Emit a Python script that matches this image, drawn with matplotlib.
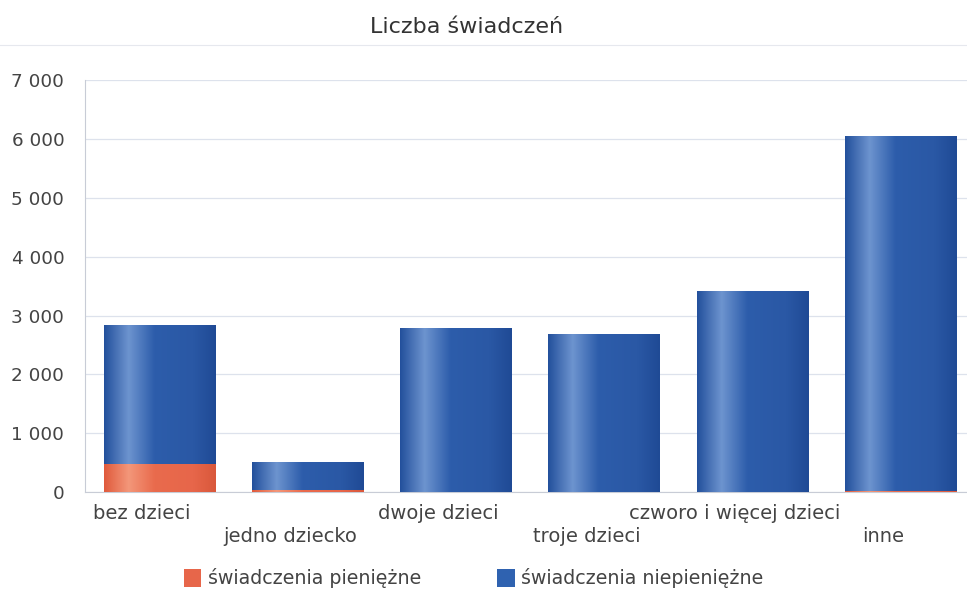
import numpy as np
from matplotlib import pyplot as plt
from matplotlib.colors import LinearSegmentedColormap
from matplotlib.patches import Patch
from matplotlib.transforms import ScaledTranslation

categories = ["bez dzieci", "jedno dziecko", "dwoje dzieci", "troje dzieci",
              "czworo i więcej dzieci", "inne"]
pieniezne = [475, 40, 0, 0, 0, 25]
niepieniezne = [2365, 470, 2790, 2685, 3420, 6025]
yticks = [0, 1000, 2000, 3000, 4000, 5000, 6000, 7000]
ytick_labels = ["0", "1 000", "2 000", "3 000", "4 000", "5 000", "6 000", "7 000"]

blue_cm = LinearSegmentedColormap.from_list(
    "cyl_blue", [(0, "#23509c"), (0.22, "#6d94cf"), (0.45, "#2d5dab"),
                 (0.8, "#2a58a5"), (1, "#1f4a95")])
red_cm = LinearSegmentedColormap.from_list(
    "cyl_red", [(0, "#e05a3c"), (0.22, "#f3977a"), (0.45, "#e96b4d"),
                (0.8, "#e7664a"), (1, "#d9583b")])

fig = plt.figure(figsize=(9.67, 5.93), dpi=100)
ax = fig.add_axes([0.088, 0.17, 0.912, 0.695])

x = np.arange(len(categories))
b1 = ax.bar(x, pieniezne, width=0.75, color="#e7664a", zorder=2)
b2 = ax.bar(x, niepieniezne, width=0.75, bottom=pieniezne, color="#2a58a5", zorder=2)

grad = np.linspace(0, 1, 256).reshape(1, -1)
for bars, cm in ((b1, red_cm), (b2, blue_cm)):
    for p in bars:
        if p.get_height() <= 0:
            continue
        x0, y0 = p.get_x(), p.get_y()
        im = ax.imshow(grad, cmap=cm, aspect="auto", zorder=3,
                       extent=(x0, x0 + p.get_width(), y0, y0 + p.get_height()))
        im.set_clip_path(p)

ax.set_xlim(-0.5, 5.45)
ax.set_ylim(0, 7000)
ax.set_yticks(yticks)
ax.set_yticklabels(ytick_labels)
ax.grid(axis="y", color="#dde2ec", linewidth=0.9, zorder=0)
ax.set_axisbelow(True)
for s in ["top", "right"]:
    ax.spines[s].set_visible(False)
ax.spines["left"].set_color("#c8ccd6")
ax.spines["bottom"].set_color("#c8ccd6")
ax.tick_params(axis="y", length=0, labelsize=13.2, labelcolor="#444444", pad=15)
ax.tick_params(axis="x", length=0, labelsize=14, labelcolor="#444444")
ax.set_xticks(x)
ax.set_xticklabels(categories)
shift = ScaledTranslation(-17 / 100, 0, fig.dpi_scale_trans)
for i, lab in enumerate(ax.get_xticklabels()):
    lab.set_y(-0.018 if i % 2 == 0 else -0.072)
    lab.set_transform(lab.get_transform() + shift)

fig.text(0.483, 0.955, "Liczba świadczeń", ha="center", va="center",
         fontsize=16, color="#333333")
fig.add_artist(plt.Line2D([0, 1], [0.924, 0.924], color="#e6e8ee", linewidth=0.8))

handles = [Patch(facecolor="#e7664a", label="świadczenia pieniężne"),
           Patch(facecolor="#2f62b0", label="świadczenia niepieniężne")]
fig.legend(handles=handles, loc="center", bbox_to_anchor=(0.49, 0.025), ncol=2,
           frameon=False, fontsize=13.7, handlelength=0.9, handleheight=1.1,
           columnspacing=4.0, handletextpad=0.35, labelcolor="#444444")

fig.savefig("out.png", dpi=100)
